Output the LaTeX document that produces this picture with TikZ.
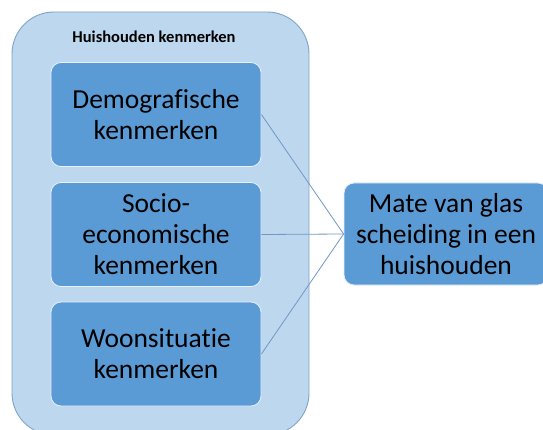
\documentclass[tikz,border=0pt]{standalone}
\usepackage{fontspec}
\setmainfont[Ligatures=NoCommon]{Carlito}
\definecolor{outerfill}{HTML}{BDD7EE}
\definecolor{outerline}{HTML}{7FA3CA}
\definecolor{boxfill}{HTML}{5B9BD5}
\definecolor{linkcol}{HTML}{6F98C6}
\tikzset{
  outerbox/.style={draw=outerline, fill=outerfill, line width=0.9pt, rounded corners=42pt},
  itembox/.style={draw=white!85!boxfill, fill=boxfill, line width=0.8pt, rounded corners=10pt,
    minimum width=210pt, minimum height=104pt, align=center, inner sep=0pt,
    font=\fontsize{27.5}{31}\selectfont, text=black},
  link/.style={draw=linkcol, line width=0.8pt}
}
\begin{document}
\begin{tikzpicture}[x=1pt,y=-1pt]
\useasboundingbox (0,0) rectangle (543,430);
\clip (0,0) rectangle (543,430);
\fill[white] (0,0) rectangle (543,430);
\draw[outerbox] (12,12) rectangle (309,435);
\node[font=\bfseries\fontsize{16.5}{19}\selectfont, text=black] (title) at (154,37) {Huishouden kenmerken};
\node[itembox] (dem) at (156,114.5) {Demografische\\kenmerken};
\node[itembox] (soc) at (156,234.5) {Socio-\\economische\\kenmerken};
\node[itembox] (woon) at (156,354) {Woonsituatie\\kenmerken};
\node[itembox, minimum width=204pt, minimum height=102pt] (mate) at (446,234) {Mate van glas\\scheiding in een\\huishouden};
\draw[link] (dem.east) -- (mate.west);
\draw[link] (soc.east) -- (mate.west);
\draw[link] (woon.east) -- (mate.west);
\end{tikzpicture}
\end{document}
